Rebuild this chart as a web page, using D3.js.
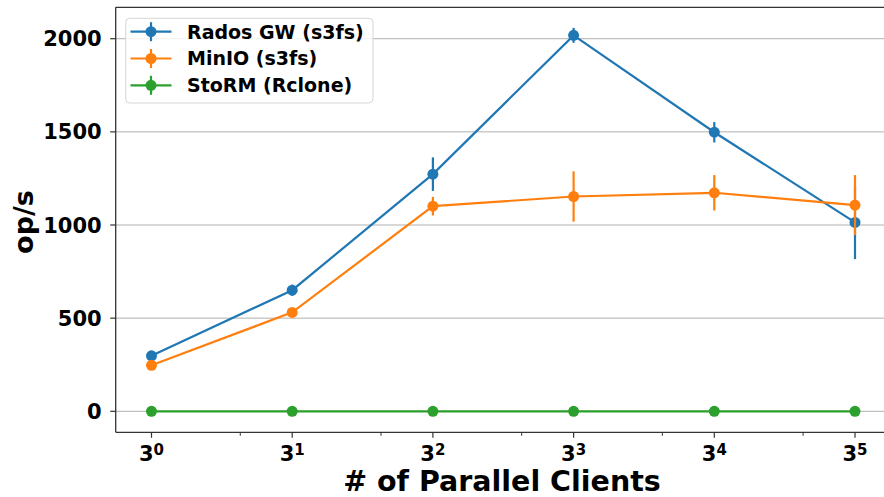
<!DOCTYPE html>
<html>
<head>
<meta charset="utf-8">
<script src="https://cdn.jsdelivr.net/npm/d3@7"></script>
<style>
  html, body { margin: 0; padding: 0; background: #fff; }
  svg { display: block; }
  text { font-family: "DejaVu Sans", sans-serif; font-weight: bold; fill: #000; }
</style>
</head>
<body>
<svg id="chart" width="884" height="497"></svg>
<script>
// Throughput (op/s) by number of parallel clients, log3 x-axis
const clients = [1, 3, 9, 27, 81, 243];
const radosGW = [298, 650, 1273, 2018, 1498, 1014];
const radosGWErr = [12, 30, 90, 40, 55, 197];
const minio = [247, 531, 1101, 1153, 1173, 1107];
const minioErr = [8, 14, 50, 135, 95, 161];
const storm = [0, 0, 0, 0, 0, 0];
const stormErr = [0, 0, 0, 0, 0, 0];
const yTicks = [0, 500, 1000, 1500, 2000];
const seriesNames = ["Rados GW (s3fs)", "MinIO (s3fs)", "StoRM (Rclone)"];
const seriesColors = ["#1f77b4", "#ff7f0e", "#2ca02c"];

const series = [
  { name: seriesNames[0], color: seriesColors[0], values: radosGW, errors: radosGWErr },
  { name: seriesNames[1], color: seriesColors[1], values: minio, errors: minioErr },
  { name: seriesNames[2], color: seriesColors[2], values: storm, errors: stormErr }
];

const svg = d3.select("#chart");
const plot = { left: 115.7, right: 890.8, top: 7.3, bottom: 432.3 };

const x = d3.scaleLog().base(3)
  .domain([Math.pow(3, -0.2544), Math.pow(3, 5.2544)])
  .range([plot.left, plot.right]);
const y = d3.scaleLinear()
  .domain([-112.7, 2168.6])
  .range([plot.bottom, plot.top]);

// horizontal grid
svg.append("g").selectAll("line").data(yTicks).join("line")
  .attr("x1", plot.left).attr("x2", plot.right)
  .attr("y1", d => y(d)).attr("y2", d => y(d))
  .attr("stroke", "#b0b0b0").attr("stroke-width", 1);

// series: error bars, connecting line, markers
const line = d3.line().x((d, i) => x(clients[i])).y(d => y(d));
series.forEach(s => {
  const g = svg.append("g");
  g.selectAll("line.err").data(s.values).join("line")
    .attr("class", "err")
    .attr("x1", (d, i) => x(clients[i])).attr("x2", (d, i) => x(clients[i]))
    .attr("y1", (d, i) => y(d - s.errors[i])).attr("y2", (d, i) => y(d + s.errors[i]))
    .attr("stroke", s.color).attr("stroke-width", 2.2);
  g.append("path").datum(s.values)
    .attr("d", line).attr("fill", "none")
    .attr("stroke", s.color).attr("stroke-width", 2.2);
  g.selectAll("circle").data(s.values).join("circle")
    .attr("cx", (d, i) => x(clients[i])).attr("cy", d => y(d))
    .attr("r", 5.5).attr("fill", s.color);
});

// axes frame
const axisColor = "#333";
svg.append("line").attr("x1", plot.left).attr("x2", plot.left)
  .attr("y1", plot.top).attr("y2", plot.bottom).attr("stroke", axisColor).attr("stroke-width", 1.3);
svg.append("line").attr("x1", plot.left).attr("x2", plot.right)
  .attr("y1", plot.bottom).attr("y2", plot.bottom).attr("stroke", axisColor).attr("stroke-width", 1.3);
svg.append("line").attr("x1", plot.left).attr("x2", plot.right)
  .attr("y1", plot.top).attr("y2", plot.top).attr("stroke", axisColor).attr("stroke-width", 1.3);

// y ticks and labels
const yAxis = svg.append("g");
yTicks.forEach(t => {
  yAxis.append("line").attr("x1", plot.left - 5.5).attr("x2", plot.left)
    .attr("y1", y(t)).attr("y2", y(t)).attr("stroke", axisColor).attr("stroke-width", 1.2);
  yAxis.append("text").attr("x", plot.left - 14).attr("y", y(t))
    .attr("text-anchor", "end").attr("dy", "0.36em")
    .style("font-size", "21px").text(t);
});

// x ticks: majors at 3^k, minors at 2*3^k
const xAxis = svg.append("g");
clients.forEach((c, k) => {
  xAxis.append("line").attr("x1", x(c)).attr("x2", x(c))
    .attr("y1", plot.bottom).attr("y2", plot.bottom + 5.5)
    .attr("stroke", axisColor).attr("stroke-width", 1.2);
  const t = xAxis.append("text").attr("x", x(c)).attr("y", plot.bottom + 29)
    .attr("text-anchor", "middle").style("font-size", "21px");
  t.append("tspan").text("3");
  t.append("tspan").attr("dy", "-0.45em").style("font-size", "15px").text(String(k));
});
clients.slice(0, 5).forEach(c => {
  const m = 2 * c;
  xAxis.append("line").attr("x1", x(m)).attr("x2", x(m))
    .attr("y1", plot.bottom).attr("y2", plot.bottom + 3.5)
    .attr("stroke", axisColor).attr("stroke-width", 1);
});

// axis titles
svg.append("text").attr("x", 502).attr("y", 491)
  .attr("text-anchor", "middle").style("font-size", "28.5px")
  .text("# of Parallel Clients");
svg.append("text").attr("transform", "translate(33,222) rotate(-90)")
  .attr("text-anchor", "middle").style("font-size", "27px")
  .text("op/s");

// legend
const lg = svg.append("g");
lg.append("rect").attr("x", 125.7).attr("y", 18.3).attr("width", 247.3).attr("height", 84.7)
  .attr("rx", 4).attr("fill", "#fff").attr("fill-opacity", 0.8)
  .attr("stroke", "#d6d6d6").attr("stroke-width", 1);
series.forEach((s, i) => {
  const cy = 31.7 + i * 26.8;
  lg.append("line").attr("x1", 130.5).attr("x2", 171.5).attr("y1", cy).attr("y2", cy)
    .attr("stroke", s.color).attr("stroke-width", 2.2);
  lg.append("line").attr("x1", 151).attr("x2", 151).attr("y1", cy - 9.5).attr("y2", cy + 9.5)
    .attr("stroke", s.color).attr("stroke-width", 2.2);
  lg.append("circle").attr("cx", 151).attr("cy", cy).attr("r", 5.5).attr("fill", s.color);
  lg.append("text").attr("x", 187).attr("y", cy).attr("dy", "0.36em")
    .style("font-size", "19px").text(s.name);
});
</script>
</body>
</html>
